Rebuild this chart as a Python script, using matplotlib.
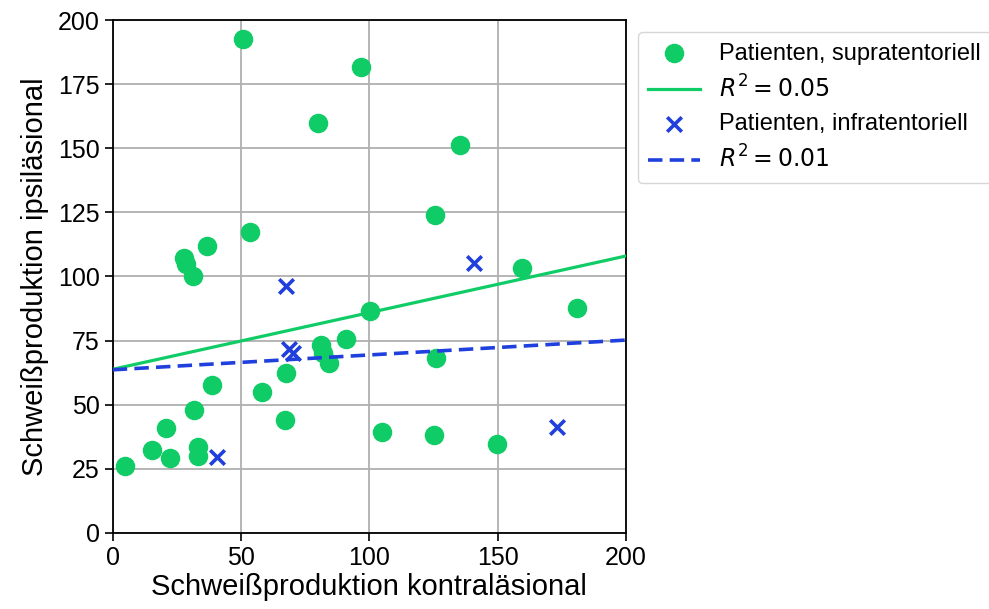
import numpy as np
import matplotlib
matplotlib.use("Agg")
import matplotlib.pyplot as plt

plt.rcParams['font.family'] = ['Liberation Sans', 'DejaVu Sans']

# supratentorial patients (contralesional, ipsilesional)
supra_x = [50.7, 96.7, 79.9, 135.3, 125.5, 53.4, 36.6, 27.7, 28.5, 31.2,
           159.5, 180.9, 100.2, 90.8, 81.1, 81.9, 84.2, 125.9, 67.4, 38.6,
           58.1, 31.6, 67.1, 104.9, 125.1, 149.7, 20.7, 33.1, 33.1, 15.2,
           22.2, 4.7]
supra_y = [192.6, 181.7, 159.8, 151.3, 124.0, 117.3, 111.9, 107.2, 104.9, 100.2,
           103.3, 87.7, 86.5, 75.6, 73.3, 70.2, 66.3, 68.2, 62.4, 57.7,
           55.0, 48.0, 44.1, 39.4, 38.2, 34.7, 40.9, 33.5, 30.0, 32.4,
           29.2, 26.1]

# infratentorial patients
infra_x = [67.5, 68.6, 70.2, 40.8, 140.7, 173.1]
infra_y = [96.3, 71.7, 70.2, 29.4, 105.3, 41.3]

# linear fits: intercept, slope
supra_fit = (63.8, 0.221)
infra_fit = (63.6, 0.058)
supra_r2 = 0.05
infra_r2 = 0.01

green = '#10cc66'
blue = '#2040dd'

fig = plt.figure(figsize=(9.89, 6.09), dpi=100)
ax = fig.add_axes([0.114, 0.125, 0.519, 0.842])

xs = np.array([0, 200])
ax.scatter(supra_x, supra_y, s=170, color=green, zorder=3,
           label='Patienten, supratentoriell')
ax.plot(xs, supra_fit[0] + supra_fit[1] * xs, color=green, lw=2.3, zorder=4,
        label=r'$R^2 = %.2f$' % supra_r2)
ax.scatter(infra_x, infra_y, s=110, marker='x', color=blue, linewidths=2.6,
           zorder=5, label='Patienten, infratentoriell')
ax.plot(xs, infra_fit[0] + infra_fit[1] * xs, color=blue, lw=2.6, ls='--',
        dashes=(4, 2), zorder=4, label=r'$R^2 = %.2f$' % infra_r2)

ax.set_xlim(0, 200)
ax.set_ylim(0, 200)
ax.set_xticks(range(0, 201, 50))
ax.set_yticks(range(0, 201, 25))
ax.grid(True, color='#b0b0b0', lw=1.3)
ax.set_axisbelow(True)
ax.tick_params(labelsize=18, length=6, width=1.2)
for sp in ax.spines.values():
    sp.set_linewidth(1.3)

ax.set_xlabel('Schweißproduktion kontraläsional', fontsize=21, labelpad=2)
ax.set_ylabel('Schweißproduktion ipsiläsional', fontsize=21, labelpad=6)

ax.legend(loc='upper left', bbox_to_anchor=(1.0, 1.0), fontsize=17,
          handlelength=2.2, borderpad=0.45, labelspacing=0.45)

fig.savefig('out.png', dpi=100)
